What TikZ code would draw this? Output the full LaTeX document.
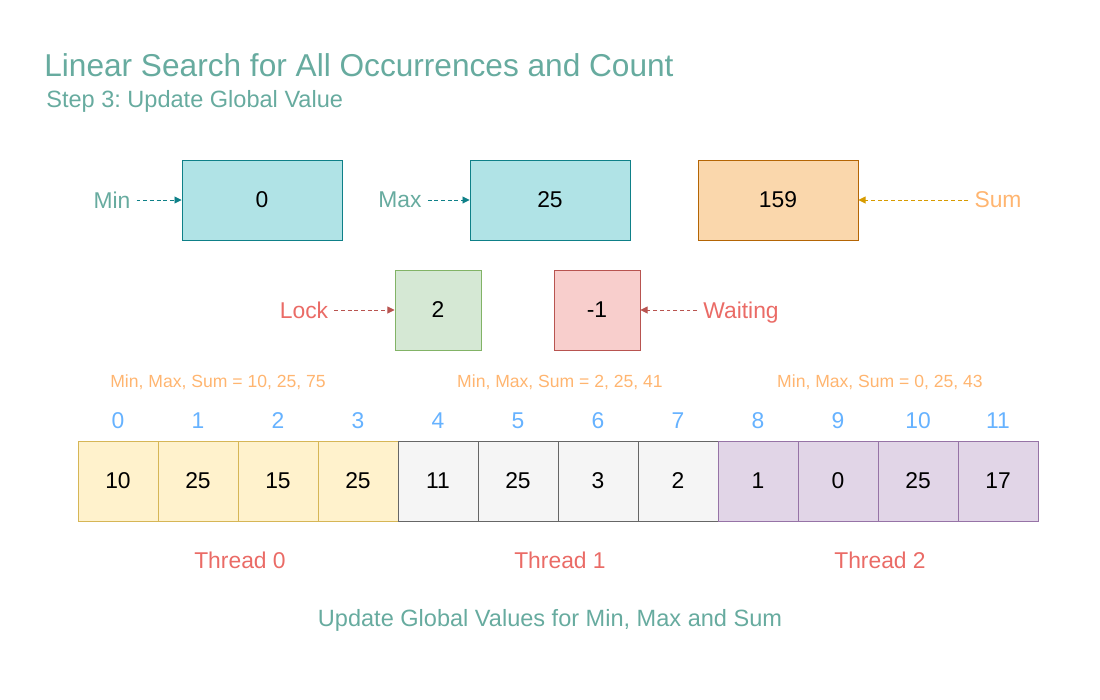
\documentclass[tikz,border=0pt]{standalone}
\usepackage{fontspec}
\setmainfont{Liberation Sans}
\usetikzlibrary{arrows.meta}
\frenchspacing

\definecolor{tealtext}{HTML}{67AB9F}
\definecolor{orangetext}{HTML}{FFB570}
\definecolor{redtext}{HTML}{EA6B66}
\definecolor{bluetext}{HTML}{66B2FF}
\definecolor{tealfill}{HTML}{B0E3E6}
\definecolor{tealline}{HTML}{0E8088}
\definecolor{orangefill}{HTML}{FAD7AC}
\definecolor{orangeline}{HTML}{B46504}
\definecolor{sumarrow}{HTML}{D79B00}
\definecolor{greenfill}{HTML}{D5E8D4}
\definecolor{greenline}{HTML}{82B366}
\definecolor{redfill}{HTML}{F8CECC}
\definecolor{redline}{HTML}{B85450}
\definecolor{yellowfill}{HTML}{FFF2CC}
\definecolor{yellowline}{HTML}{D6B656}
\definecolor{greyfill}{HTML}{F5F5F5}
\definecolor{greyline}{HTML}{666666}
\definecolor{purplefill}{HTML}{E1D5E7}
\definecolor{purpleline}{HTML}{9673A6}

\begin{document}
\begin{tikzpicture}[x=0.02cm,y=-0.02cm,
    every node/.style={font=\fontsize{13}{15}\selectfont},
    box/.style={draw,line width=0.55pt,inner sep=0pt,minimum height=1.6cm},
    cell/.style={box,minimum width=1.6cm},
    tag/.style={text depth=0pt},
    pointer/.style={line width=0.5pt,dash pattern=on 2.2pt off 1.6pt,
      -{Triangle[length=4pt,width=4pt]}},
    note/.style={font=\fontsize{10}{12}\selectfont,text=orangetext}]
    \useasboundingbox (0,0) rectangle (1100,700);

    % title
    \node [anchor=west,inner sep=0pt,text=tealtext,
    font=\fontsize{18}{21}\selectfont] (title) at (44,65)
    {Linear Search for All Occurrences and Count};
    \node [anchor=west,inner sep=0pt,text=tealtext,
    font=\fontsize{13.4}{16}\selectfont] (subtitle) at (46,101)
    {Step 3: Update Global Value};

    % global values
    \coordinate (gmin) at (262, 200);
    \coordinate (gmax) at (550, 200);
    \coordinate (gsum) at (778, 200);
    \coordinate (glock) at (438, 310);
    \coordinate (gwait) at (597, 310);

    \node [box,minimum width=3.2cm,fill=tealfill,draw=tealline]
    (minbox) at (gmin) {0};
    \node [box,minimum width=3.2cm,fill=tealfill,draw=tealline]
    (maxbox) at (gmax) {25};
    \node [box,minimum width=3.2cm,fill=orangefill,draw=orangeline]
    (sumbox) at (gsum) {159};
    \node [box,minimum width=1.72cm,fill=greenfill,draw=greenline]
    (lockbox) at (glock) {2};
    \node [box,minimum width=1.72cm,fill=redfill,draw=redline]
    (waitbox) at (gwait) {-1};

    \node [tag,text=tealtext] (minlabel) at (112, 200) {Min};
    \node [tag,text=tealtext] (maxlabel) at (400, 200) {Max};
    \node [tag,text=orangetext] (sumlabel) at (998, 200) {Sum};
    \node [tag,text=redtext] (locklabel) at (304, 310) {Lock};
    \node [tag,text=redtext] (waitlabel) at (741, 310) {Waiting};

    \draw [pointer,tealline] (minlabel) -- (minbox);
    \draw [pointer,tealline] (maxlabel) -- (maxbox);
    \draw [pointer,sumarrow] (sumlabel) -- (sumbox);
    \draw [pointer,redline] (locklabel) -- (lockbox);
    \draw [pointer,redline] (waitlabel) -- (waitbox);

    % per-thread results
    \node [note] (note0) at (218, 382) {Min, Max, Sum = 10, 25, 75};
    \node [note] (note1) at (560, 382) {Min, Max, Sum = 2, 25, 41};
    \node [note] (note2) at (880, 382) {Min, Max, Sum = 0, 25, 43};

    % array
    \node [cell,fill=yellowfill,draw=yellowline] (c0) at (118, 481) {10};
    \node [cell,fill=yellowfill,draw=yellowline] (c1) at (198, 481) {25};
    \node [cell,fill=yellowfill,draw=yellowline] (c2) at (278, 481) {15};
    \node [cell,fill=yellowfill,draw=yellowline] (c3) at (358, 481) {25};
    \node [cell,fill=greyfill,draw=greyline] (c4) at (438, 481) {11};
    \node [cell,fill=greyfill,draw=greyline] (c5) at (518, 481) {25};
    \node [cell,fill=greyfill,draw=greyline] (c6) at (598, 481) {3};
    \node [cell,fill=greyfill,draw=greyline] (c7) at (678, 481) {2};
    \node [cell,fill=purplefill,draw=purpleline] (c8) at (758, 481) {1};
    \node [cell,fill=purplefill,draw=purpleline] (c9) at (838, 481) {0};
    \node [cell,fill=purplefill,draw=purpleline] (c10) at (918, 481) {25};
    \node [cell,fill=purplefill,draw=purpleline] (c11) at (998, 481) {17};

    % indices
    \node [text=bluetext] (i0) at (118, 421) {0};
    \node [text=bluetext] (i1) at (198, 421) {1};
    \node [text=bluetext] (i2) at (278, 421) {2};
    \node [text=bluetext] (i3) at (358, 421) {3};
    \node [text=bluetext] (i4) at (438, 421) {4};
    \node [text=bluetext] (i5) at (518, 421) {5};
    \node [text=bluetext] (i6) at (598, 421) {6};
    \node [text=bluetext] (i7) at (678, 421) {7};
    \node [text=bluetext] (i8) at (758, 421) {8};
    \node [text=bluetext] (i9) at (838, 421) {9};
    \node [text=bluetext] (i10) at (918, 421) {10};
    \node [text=bluetext] (i11) at (998, 421) {11};

    % threads
    \node [text=redtext] (thread0) at (240, 560) {Thread 0};
    \node [text=redtext] (thread1) at (560, 560) {Thread 1};
    \node [text=redtext] (thread2) at (880, 560) {Thread 2};

    \node [text=tealtext,font=\fontsize{13.4}{16}\selectfont] (caption)
    at (550, 620) {Update Global Values for Min, Max and Sum};
  \end{tikzpicture}
\end{document}
